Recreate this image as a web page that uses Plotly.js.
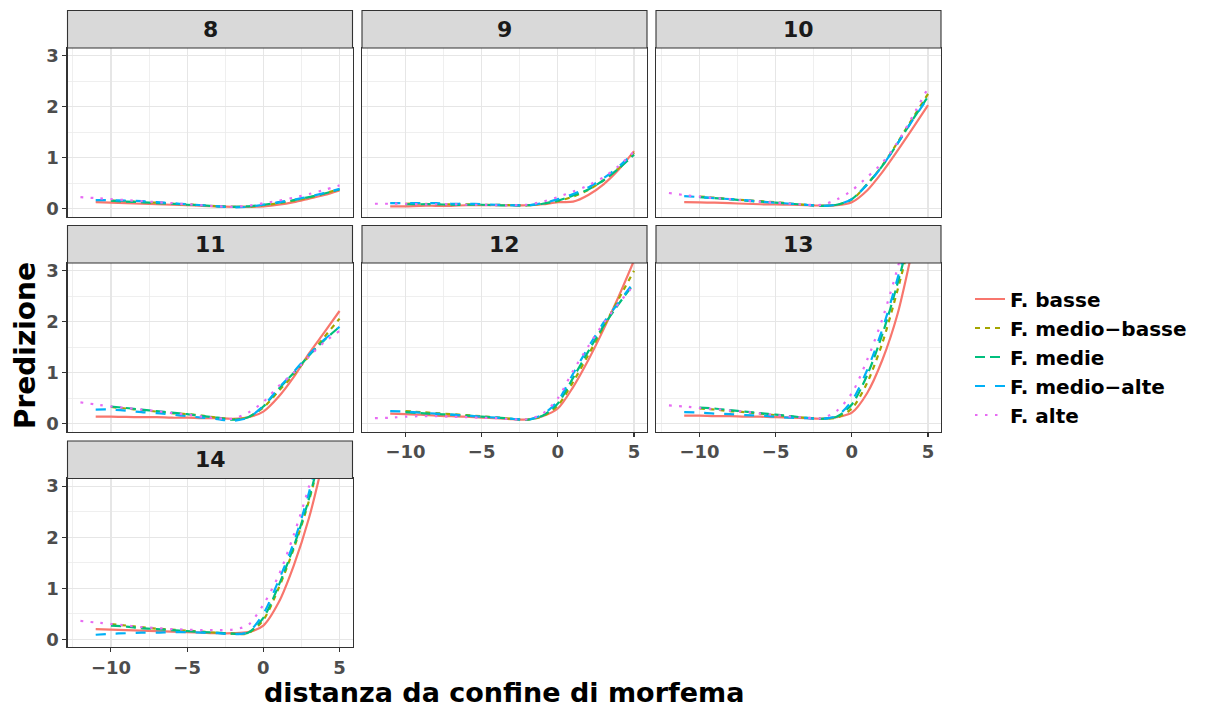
<!DOCTYPE html>
<html>
<head>
<meta charset="utf-8">
<script src="https://cdn.plot.ly/plotly-3.0.1.min.js"></script>
<style>html,body{margin:0;padding:0;background:#fff;}#chart{width:1215px;height:709px;}</style>
</head>
<body>
<div id="chart"></div>
<script>
// ---- data ----
const panels = ['8', '9', '10', '11', '12', '13', '14'];
const seriesNames = ['F. basse', 'F. medio\u2212basse', 'F. medie', 'F. medio\u2212alte', 'F. alte'];

const xBasse      = [-11,-10,-9,-8,-7,-6,-5,-4,-3,-2,-1,0,1,2,3,4,5];
const xMedioBasse = [-10,-9,-8,-7,-6,-5,-4,-3,-2,-1,0,1,2,3,4,5];
const xMedie      = [-10,-9,-8,-7,-6,-5,-4,-3,-2,-1,0,1,2,3,4,5];
const xMedioAlte  = [-11,-10,-9,-8,-7,-6,-5,-4,-3,-2,-1,0,1,2,3,4,5];
const xAlte       = [-12,-11,-10,-9,-8,-7,-6,-5,-4,-3,-2,-1,0,1,2,3,4,5];

// one row per panel (8 ... 14)
const yBasse = [
  [0.13,0.12,0.11,0.10,0.09,0.08,0.07,0.06,0.05,0.04,0.04,0.05,0.08,0.13,0.20,0.27,0.36],
  [0.05,0.05,0.06,0.06,0.06,0.07,0.07,0.07,0.07,0.07,0.09,0.13,0.14,0.27,0.48,0.77,1.13],
  [0.13,0.125,0.12,0.11,0.10,0.09,0.085,0.08,0.07,0.065,0.07,0.13,0.36,0.72,1.14,1.58,2.03],
  [0.14,0.14,0.135,0.13,0.13,0.12,0.12,0.11,0.11,0.10,0.13,0.24,0.53,0.92,1.38,1.79,2.21],
  [0.20,0.19,0.18,0.16,0.15,0.14,0.12,0.11,0.09,0.085,0.15,0.30,0.72,1.25,1.85,2.50,3.20],
  [0.16,0.16,0.15,0.15,0.14,0.14,0.13,0.12,0.11,0.10,0.13,0.22,0.60,1.25,2.15,3.45,4.90],
  [0.20,0.19,0.18,0.17,0.16,0.15,0.14,0.13,0.12,0.12,0.14,0.27,0.72,1.45,2.38,3.60,5.00]
];
const yMedioBasse = [
  [0.16,0.15,0.13,0.12,0.10,0.09,0.07,0.05,0.04,0.04,0.07,0.11,0.16,0.22,0.30,0.39],
  [0.10,0.10,0.09,0.09,0.09,0.08,0.08,0.07,0.07,0.10,0.15,0.24,0.37,0.56,0.80,1.10],
  [0.24,0.22,0.19,0.17,0.15,0.13,0.10,0.08,0.06,0.08,0.18,0.48,0.85,1.30,1.78,2.25],
  [0.33,0.30,0.27,0.24,0.21,0.19,0.16,0.12,0.09,0.13,0.32,0.64,0.97,1.33,1.70,2.06],
  [0.25,0.23,0.21,0.19,0.17,0.15,0.12,0.10,0.08,0.15,0.36,0.82,1.35,1.90,2.45,3.00],
  [0.30,0.28,0.25,0.23,0.20,0.17,0.14,0.12,0.10,0.12,0.30,0.80,1.58,2.62,3.80,5.10],
  [0.30,0.27,0.24,0.21,0.19,0.17,0.15,0.13,0.11,0.12,0.38,1.00,1.78,2.72,3.90,5.20]
];
const yMedie = [
  [0.16,0.14,0.13,0.11,0.10,0.08,0.07,0.05,0.04,0.05,0.08,0.12,0.17,0.23,0.30,0.38],
  [0.09,0.09,0.09,0.08,0.08,0.08,0.07,0.07,0.07,0.10,0.16,0.26,0.38,0.56,0.79,1.06],
  [0.23,0.21,0.19,0.16,0.14,0.12,0.10,0.08,0.06,0.08,0.19,0.48,0.84,1.28,1.75,2.20],
  [0.34,0.31,0.28,0.25,0.22,0.19,0.15,0.12,0.08,0.13,0.34,0.68,1.00,1.34,1.64,1.90],
  [0.23,0.21,0.19,0.18,0.16,0.14,0.12,0.10,0.08,0.16,0.40,0.90,1.42,1.92,2.35,2.75],
  [0.32,0.30,0.27,0.24,0.21,0.18,0.15,0.12,0.10,0.14,0.38,0.95,1.75,2.75,3.90,5.20],
  [0.27,0.25,0.22,0.20,0.18,0.16,0.14,0.13,0.11,0.13,0.42,1.05,1.82,2.76,3.95,5.25]
];
const yMedioAlte = [
  [0.17,0.17,0.16,0.15,0.13,0.11,0.09,0.07,0.05,0.03,0.04,0.08,0.13,0.18,0.24,0.31,0.39],
  [0.11,0.11,0.11,0.11,0.10,0.10,0.09,0.08,0.07,0.07,0.11,0.19,0.29,0.42,0.60,0.83,1.10],
  [0.25,0.23,0.21,0.19,0.17,0.14,0.12,0.10,0.08,0.06,0.08,0.19,0.47,0.84,1.28,1.74,2.18],
  [0.28,0.28,0.26,0.23,0.21,0.18,0.15,0.12,0.09,0.06,0.12,0.35,0.70,1.02,1.36,1.65,1.90],
  [0.25,0.24,0.22,0.20,0.18,0.16,0.14,0.12,0.10,0.08,0.18,0.45,0.98,1.50,1.98,2.38,2.78],
  [0.23,0.22,0.20,0.19,0.17,0.16,0.14,0.12,0.11,0.10,0.15,0.45,1.05,1.85,2.85,4.00,5.30],
  [0.09,0.11,0.12,0.13,0.13,0.14,0.14,0.13,0.12,0.10,0.14,0.50,1.15,1.90,2.88,4.10,5.40]
];
const yAlte = [
  [0.23,0.21,0.19,0.17,0.15,0.13,0.11,0.09,0.07,0.05,0.04,0.06,0.11,0.16,0.22,0.29,0.37,0.46],
  [0.10,0.10,0.10,0.09,0.09,0.09,0.08,0.08,0.07,0.07,0.08,0.14,0.23,0.34,0.46,0.62,0.84,1.12],
  [0.31,0.27,0.24,0.21,0.19,0.16,0.14,0.12,0.10,0.08,0.08,0.18,0.36,0.62,0.90,1.30,1.82,2.37],
  [0.42,0.38,0.34,0.31,0.28,0.25,0.21,0.18,0.14,0.11,0.10,0.22,0.43,0.74,1.00,1.32,1.60,1.82],
  [0.11,0.12,0.14,0.15,0.15,0.14,0.13,0.12,0.11,0.09,0.09,0.20,0.50,1.04,1.52,1.97,2.36,2.72],
  [0.36,0.34,0.31,0.29,0.26,0.24,0.20,0.17,0.14,0.12,0.11,0.25,0.60,1.25,2.05,3.05,4.20,5.50],
  [0.36,0.33,0.30,0.27,0.24,0.22,0.20,0.19,0.18,0.18,0.19,0.28,0.68,1.25,2.05,3.00,4.20,5.50]
];

const xTickVals = [-10, -5, 0, 5];
const yTickVals = [0, 1, 2, 3];

// ---- styling ----
const colors = ['#F8766D', '#A3A500', '#00BF7D', '#00B0F6', '#E76BF3'];
const dashes = ['solid', '5px,5px', '10px,5px', '10px,10px', '2.5px,7.5px'];
const xs = [xBasse, xMedioBasse, xMedie, xMedioAlte, xAlte];
const ys = [yBasse, yMedioBasse, yMedie, yMedioAlte, yAlte];

const FONT = 'DejaVu Sans, Verdana, sans-serif';
const W = 1215, H = 709;
const colLeft = [67.5, 362, 656], colW = 285;
const rowTop = [48, 263, 478.5], rowH = 168.5, stripH = 37.5;

const traces = [];
panels.forEach((p, i) => {
  const n = i === 0 ? '' : String(i + 1);
  for (let s = 0; s < 5; s++) {
    traces.push({
      type: 'scatter', mode: 'lines',
      x: xs[s], y: ys[s][i],
      xaxis: 'x' + n, yaxis: 'y' + n,
      name: seriesNames[s], legendgroup: seriesNames[s],
      showlegend: i === 0,
      line: {color: colors[s], width: 2.2, dash: dashes[s], shape: 'spline', smoothing: 0.8},
      hoverinfo: 'x+y+name'
    });
  }
});

const layout = {
  width: W, height: H, autosize: false,
  margin: {l: 0, r: 0, t: 0, b: 0},
  paper_bgcolor: '#ffffff', plot_bgcolor: '#ffffff',
  font: {family: FONT, color: '#000000'},
  showlegend: true,
  legend: {
    x: 970 / W, xanchor: 'left', y: 1 - 357 / H, yanchor: 'middle',
    font: {family: FONT, size: 20, color: '#000000', weight: 'bold'},
    bgcolor: 'rgba(0,0,0,0)', borderwidth: 0, traceorder: 'normal',
    itemwidth: 30, tracegroupgap: 0
  },
  shapes: [], annotations: []
};

const tickFont = {family: FONT, size: 18, color: '#4D4D4D', weight: 'bold'};
const bottomOf = [6, 4, 5]; // panel index carrying the x ticks in each column

panels.forEach((p, i) => {
  const n = i === 0 ? '' : String(i + 1);
  const row = Math.floor(i / 3), col = i % 3;
  const showX = bottomOf[col] === i;
  const showY = col === 0;
  layout['xaxis' + n] = {
    domain: [colLeft[col] / W, (colLeft[col] + colW) / W],
    anchor: 'y' + n,
    range: [-12.85, 5.85],
    tickmode: 'array', tickvals: xTickVals,
    showticklabels: showX, ticks: showX ? 'outside' : '',
    ticklen: 4, tickwidth: 1.1, tickcolor: '#333333',
    tickfont: tickFont,
    showgrid: true, gridcolor: '#E6E6E6', gridwidth: 1.2,
    minor: {dtick: 2.5, tick0: 0, showgrid: true, gridcolor: '#EBEBEB', gridwidth: 0.8, ticks: ''},
    zeroline: false, showline: true, mirror: true, linecolor: '#333333', linewidth: 1.1,
    fixedrange: true
  };
  layout['yaxis' + n] = {
    domain: [1 - (rowTop[row] + rowH) / H, 1 - rowTop[row] / H],
    anchor: 'x' + n,
    range: [-0.15, 3.15],
    tickmode: 'array', tickvals: yTickVals,
    showticklabels: showY, ticks: showY ? 'outside' : '',
    ticklen: 4, tickwidth: 1.1, tickcolor: '#333333',
    tickfont: tickFont,
    showgrid: true, gridcolor: '#E6E6E6', gridwidth: 1.2,
    minor: {dtick: 0.5, tick0: 0, showgrid: true, gridcolor: '#EBEBEB', gridwidth: 0.8, ticks: ''},
    zeroline: false, showline: true, mirror: true, linecolor: '#333333', linewidth: 1.1,
    fixedrange: true
  };
  layout.shapes.push({
    type: 'rect', xref: 'x' + n + ' domain', yref: 'y' + n + ' domain',
    x0: 0, x1: 1, y0: 1, y1: 1 + stripH / rowH,
    fillcolor: '#D9D9D9', line: {color: '#333333', width: 1.1}, layer: 'above'
  });
  layout.annotations.push({
    xref: 'x' + n + ' domain', yref: 'y' + n + ' domain',
    x: 0.5, y: 1 + stripH / rowH / 2, xanchor: 'center', yanchor: 'middle',
    text: p, showarrow: false,
    font: {family: FONT, size: 22, color: '#1A1A1A', weight: 'bold'}
  });
});

layout.annotations.push({
  xref: 'paper', yref: 'paper', x: 25 / W, y: 1 - 346 / H,
  xanchor: 'center', yanchor: 'middle', textangle: -90,
  text: 'Predizione', showarrow: false,
  font: {family: FONT, size: 28, color: '#000000', weight: 'bold'}
});
layout.annotations.push({
  xref: 'paper', yref: 'paper', x: 503.5 / W, y: 1 - 692 / H,
  xanchor: 'center', yanchor: 'middle', borderpad: 0,
  text: 'distanza da confine di morfema', showarrow: false,
  font: {family: FONT, size: 27, color: '#000000', weight: 'bold'}
});

Plotly.newPlot('chart', traces, layout, {displayModeBar: false, staticPlot: true});
</script>
</body>
</html>
